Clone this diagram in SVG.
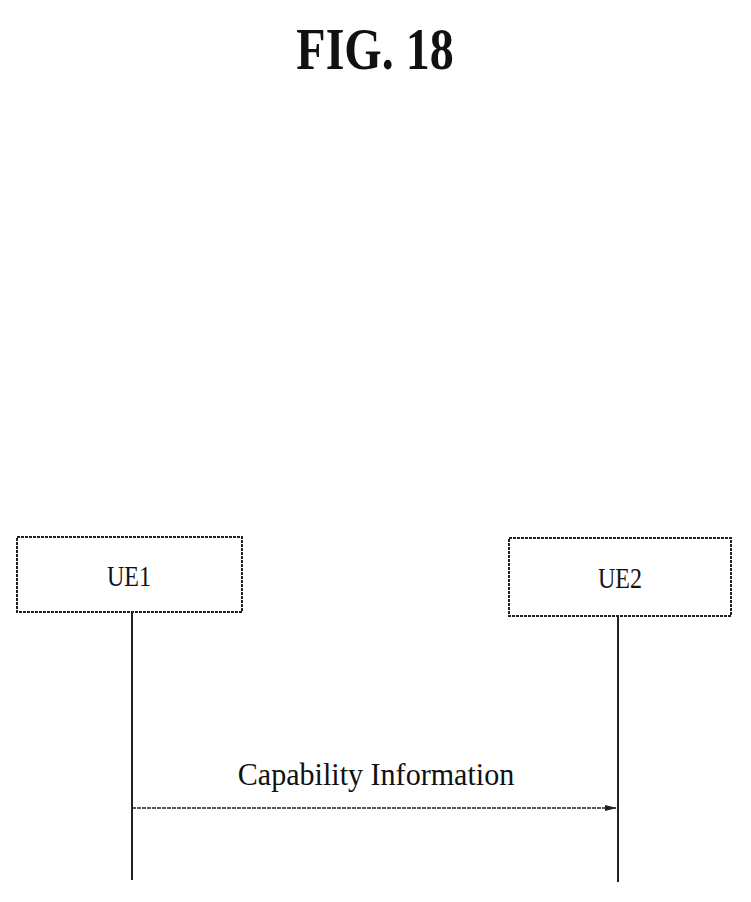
<svg xmlns="http://www.w3.org/2000/svg" width="751" height="902" viewBox="0 0 751 902">
<style>
text{font-family:"Liberation Serif",serif;fill:#111}
.box{fill:#fff;stroke:#222;stroke-width:2;stroke-dasharray:3 1}
.life{stroke:#222;stroke-width:2}
</style>
<defs><marker id="ah" markerWidth="12" markerHeight="8" refX="12" refY="4" orient="auto" markerUnits="userSpaceOnUse"><path d="M0,1 L12,4 L0,7 Z" fill="#222"/></marker></defs>
<rect width="751" height="902" fill="#fff"/>
<text x="375" y="69" font-size="60" font-weight="bold" text-anchor="middle" transform="translate(375 0) scale(0.8 1) translate(-375 0)">FIG. 18</text>
<g id="UE1"><rect class="box" x="17" y="537" width="225" height="75"/><text x="129" y="586" font-size="30" text-anchor="middle" transform="translate(129 0) scale(0.8 1) translate(-129 0)">UE1</text></g>
<g id="UE2"><rect class="box" x="509" y="538" width="222" height="78"/><text x="620" y="588" font-size="30" text-anchor="middle" transform="translate(620 0) scale(0.8 1) translate(-620 0)">UE2</text></g>
<g id="connectors">
<line class="life" x1="132" y1="612" x2="132" y2="880"/>
<line class="life" x1="618" y1="616" x2="618" y2="882"/>
<line x1="132" y1="808" x2="617" y2="808" stroke="#222" stroke-width="1.5" stroke-dasharray="4 1" marker-end="url(#ah)"/>
<text x="376" y="785" font-size="32" text-anchor="middle" transform="translate(376 0) scale(0.94 1) translate(-376 0)">Capability Information</text>
</g>
</svg>
